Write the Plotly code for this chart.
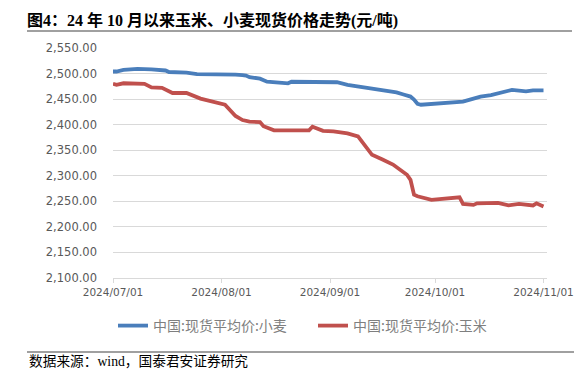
import plotly.graph_objects as go

# ---- data ----
wheat_dates = ["2024-07-01","2024-07-02","2024-07-04","2024-07-08","2024-07-12","2024-07-16",
               "2024-07-17","2024-07-22","2024-07-25","2024-07-26","2024-08-01","2024-08-05",
               "2024-08-07","2024-08-08","2024-08-09","2024-08-12","2024-08-14","2024-08-19",
               "2024-08-20","2024-08-21","2024-08-28","2024-09-03","2024-09-06","2024-09-11",
               "2024-09-16","2024-09-18","2024-09-20","2024-09-22","2024-09-24","2024-09-25",
               "2024-09-26","2024-09-27","2024-09-29","2024-10-01","2024-10-06","2024-10-09",
               "2024-10-11","2024-10-14","2024-10-17","2024-10-20","2024-10-23","2024-10-27",
               "2024-10-29","2024-11-01"]
wheat_values = [2504,2504,2507,2509,2508,2506,
                2503,2502,2499,2499,2499,2498,
                2497,2496,2493,2490,2484,2483,
                2481,2484,2484,2483,2478,2473,
                2468,2466,2463,2459,2455,2449,
                2441,2439,2440,2442,2444,2445,
                2449,2455,2458,2463,2468,2465,
                2467,2467]

corn_dates = ["2024-07-01","2024-07-02","2024-07-04","2024-07-09","2024-07-10","2024-07-12",
              "2024-07-15","2024-07-18","2024-07-22","2024-07-26","2024-07-30","2024-08-01",
              "2024-08-02","2024-08-05","2024-08-07","2024-08-09","2024-08-12","2024-08-13",
              "2024-08-16","2024-08-23","2024-08-26","2024-08-27","2024-08-30","2024-09-02",
              "2024-09-06","2024-09-09","2024-09-11","2024-09-13","2024-09-16","2024-09-19",
              "2024-09-23","2024-09-24","2024-09-25","2024-09-26","2024-09-30","2024-10-08",
              "2024-10-09","2024-10-12","2024-10-13","2024-10-16","2024-10-19","2024-10-22",
              "2024-10-25","2024-10-29","2024-10-30","2024-11-01"]
corn_values = [2480,2478,2481,2481,2480,2473,
               2472,2462,2462,2451,2445,2441,
               2439,2417,2409,2406,2405,2397,
               2389,2389,2389,2396,2388,2387,
               2383,2377,2360,2341,2332,2322,
               2302,2292,2263,2260,2253,2258,
               2245,2243,2246,2247,2247,2242,
               2245,2242,2246,2240]

series_names = ["中国:现货平均价:小麦", "中国:现货平均价:玉米"]
x_tick_vals = ["2024-07-01", "2024-08-01", "2024-09-01", "2024-10-01", "2024-11-01"]
x_tick_text = ["2024/07/01", "2024/08/01", "2024/09/01", "2024/10/01", "2024/11/01"]
title_text = "图4：24 年 10 月以来玉米、小麦现货价格走势(元/吨)"
source_text = "数据来源：wind，国泰君安证券研究"

# ---- layout geometry (screen pixels; the page body adds an 8px margin) ----
OFF = 8
W, H = 582, 381 - OFF
PL, PR, PT, PB = 113 - OFF, 547 - OFF, 48 - OFF, 278 - OFF


def px_x(p):
    return (p - OFF - PL) / (PR - PL)


def px_y(p):
    return (PB - (p - OFF)) / (PB - PT)


fig = go.Figure()
fig.add_trace(go.Scatter(x=wheat_dates, y=wheat_values, mode="lines", name=series_names[0],
                         line=dict(color="#4a7ebb", width=3.8)))
fig.add_trace(go.Scatter(x=corn_dates, y=corn_values, mode="lines", name=series_names[1],
                         line=dict(color="#c0504d", width=3.8)))

fig.update_layout(
    width=W, height=H,
    margin=dict(l=PL, r=W - PR, t=PT, b=H - PB, pad=0),
    paper_bgcolor="white", plot_bgcolor="white",
    title=dict(text="<b>" + title_text + "</b>", x=(27 - OFF) / W, xref="container",
               xanchor="left", y=1 - (20 - OFF) / H, yref="container", yanchor="middle",
               font=dict(family="Liberation Serif, Noto Sans CJK SC", size=16, color="black")),
    showlegend=True,
    legend=dict(orientation="h", x=px_x(113), xanchor="left", y=px_y(326), yanchor="middle",
                font=dict(family="Noto Sans CJK SC", size=14, color="#7f7f7f"),
                entrywidth=155, entrywidthmode="pixels", bgcolor="rgba(0,0,0,0)"),
    xaxis=dict(type="date", range=["2024-07-01", "2024-11-02"], tickvals=x_tick_vals,
               ticktext=x_tick_text, showgrid=False, showline=True, linecolor="#d9d9d9",
               linewidth=1, ticks="outside", ticklen=4, tickcolor="#d9d9d9",
               tickfont=dict(family="DejaVu Sans", size=10.5, color="#595959"), zeroline=False),
    yaxis=dict(range=[2100, 2550], dtick=50, tick0=2100, tickformat=",.2f", showgrid=True,
               gridcolor="#d9d9d9", gridwidth=1, showline=False, zeroline=False, ticks="",
               ticklabelstandoff=15,
               tickfont=dict(family="DejaVu Sans", size=11.5, color="#595959")),
    shapes=[
        dict(type="line", xref="paper", yref="paper", x0=px_x(27), x1=px_x(572),
             y0=px_y(31), y1=px_y(31), line=dict(color="#808080", width=1.3)),
        dict(type="line", xref="paper", yref="paper", x0=px_x(27), x1=px_x(574),
             y0=px_y(352), y1=px_y(352), line=dict(color="#808080", width=1.5)),
    ],
    annotations=[
        dict(text=source_text, xref="paper", yref="paper", x=px_x(27), xanchor="left",
             y=px_y(361), yanchor="middle", showarrow=False,
             font=dict(family="Liberation Serif, Noto Sans CJK SC", size=13.7, color="black")),
    ],
)

fig.write_html("out.html")
